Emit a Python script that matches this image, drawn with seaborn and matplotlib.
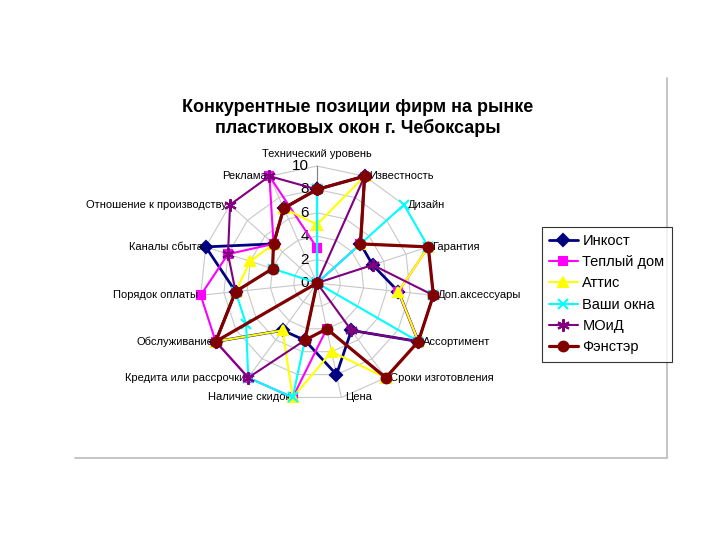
import numpy as np
import pandas as pd
import matplotlib
matplotlib.use('Agg')
import matplotlib.pyplot as plt
import seaborn as sns
from matplotlib.lines import Line2D

categories = ['Технический уровень', 'Известность', 'Дизайн', 'Гарантия',
              'Доп.аксессуары', 'Ассортимент', 'Сроки изготовления', 'Цена',
              'Наличие скидок', 'Кредита или рассрочки', 'Обслуживание',
              'Порядок оплаты', 'Каналы сбыта', 'Отношение к производству', 'Реклама']

firms = ['Инкост', 'Теплый дом', 'Аттис', 'Ваши окна', 'МОиД', 'Фэнстэр']

inkost     = [8, 10, 5, 5, 7, 10, 5, 8, 5, 5, 10, 7, 10, 5, 7]
teply_dom  = [3, 0, 5, 10, 7, 10, 10, 4, 10, 10, 10, 10, 8, 5, 10]
attis      = [5, 10, 5, 10, 7, 10, 10, 6, 10, 5, 10, 7, 6, 5, 7]
vashi_okna = [8, 0, 10, 10, 10, 10, 0, 0, 10, 10, 7, 7, 4, 0, 0]
moid       = [8, 10, 0, 5, 10, 10, 5, 0, 5, 10, 10, 7, 8, 10, 10]
fenster    = [8, 10, 5, 10, 10, 10, 10, 4, 5, 0, 10, 7, 4, 5, 7]

series = [inkost, teply_dom, attis, vashi_okna, moid, fenster]
radial_ticks = [0, 2, 4, 6, 8, 10]

colors = ['#000080', '#FF00FF', '#FFFF00', '#00FFFF', '#800080', '#800000']
markers = ['D', 's', '^', 'x', (6, 2, 0), 'o']
msizes = [6, 6, 7, 7, 9, 7]
widths = [2.0, 1.5, 1.5, 1.5, 1.5, 2.3]

sns.set_style('white')
plt.rcParams['font.family'] = ['Liberation Sans', 'DejaVu Sans']
plt.rcParams['text.color'] = 'black'

n = len(categories)
theta = np.linspace(0, 2 * np.pi, n, endpoint=False)
theta_closed = np.append(theta, 2 * np.pi)

rows = []
for firm, vals in zip(firms, series):
    for t, v in zip(theta_closed, vals + vals[:1]):
        rows.append({'firm': firm, 'theta': t, 'value': v})
df = pd.DataFrame(rows)

fig = plt.figure(figsize=(7.2, 5.4), dpi=100)
ax = fig.add_axes([0.4403 - 0.1625, 0.4759 - 0.2167, 0.325, 0.4333], projection='polar')
ax.set_theta_offset(np.pi / 2)
ax.set_theta_direction(-1)
ax.set_ylim(0, 10)
ax.grid(False)
ax.spines['polar'].set_visible(False)
ax.patch.set_visible(False)

# spider-web grid
for r in radial_ticks[1:]:
    ax.plot(theta_closed, [r] * (n + 1), color='#C8C8C8', lw=0.8, zorder=0, clip_on=False)
for t in theta:
    ax.plot([t, t], [0, 10], color='#C8C8C8', lw=0.8, zorder=0, clip_on=False)
ax.plot([0, 0], [0, 10], color='#808080', lw=0.8, zorder=0, clip_on=False)

for i, firm in enumerate(firms):
    d = df[df['firm'] == firm]
    sns.lineplot(x=d['theta'], y=d['value'], ax=ax, sort=False, estimator=None,
                 color=colors[i], lw=widths[i], marker=markers[i], ms=msizes[i],
                 mec=colors[i], mew=1.5, label=firm, legend=False, zorder=2 + i,
                 clip_on=False)

ax.set_xticks([])
ax.set_yticks([])
ax.set_xlabel('')
ax.set_ylabel('')

for r in radial_ticks:
    ax.annotate(str(r), xy=(0, r), xytext=(-6, 0), textcoords='offset points',
                ha='right', va='center', fontsize=11, zorder=1)

for t, lab in zip(theta, categories):
    s = np.sin(t)
    if abs(s) < 0.05:
        ax.annotate(lab, xy=(t, 10), xytext=(0, 5), textcoords='offset points',
                    ha='center', va='bottom', fontsize=8)
    elif s > 0:
        ax.annotate(lab, xy=(t, 10), xytext=(3, 0), textcoords='offset points',
                    ha='left', va='center', fontsize=8)
    else:
        ax.annotate(lab, xy=(t, 10), xytext=(-2, 0), textcoords='offset points',
                    ha='right', va='center', fontsize=8)

fig.text(0.4965, 0.781, 'Конкурентные позиции фирм на рынке\nпластиковых окон г. Чебоксары',
         ha='center', va='center', fontsize=13, fontweight='bold', linespacing=1.2)

handles, labels = ax.get_legend_handles_labels()
leg = fig.legend(handles, labels, loc='upper left', bbox_to_anchor=(0.742, 0.594),
                 fontsize=10.5, frameon=True, fancybox=False, edgecolor='black',
                 handlelength=2.0, borderpad=0.5, labelspacing=0.5, handletextpad=0.3)
leg.get_frame().set_linewidth(0.8)

# chart area border (right and bottom edges)
fig.add_artist(Line2D([667 / 720, 667 / 720], [1 - 78 / 540, 1 - 458 / 540], color='#BBBBBB', lw=1.2))
fig.add_artist(Line2D([75 / 720, 667 / 720], [1 - 458 / 540, 1 - 458 / 540], color='#BBBBBB', lw=1.2))

fig.savefig('out.png', dpi=100, facecolor='white')
